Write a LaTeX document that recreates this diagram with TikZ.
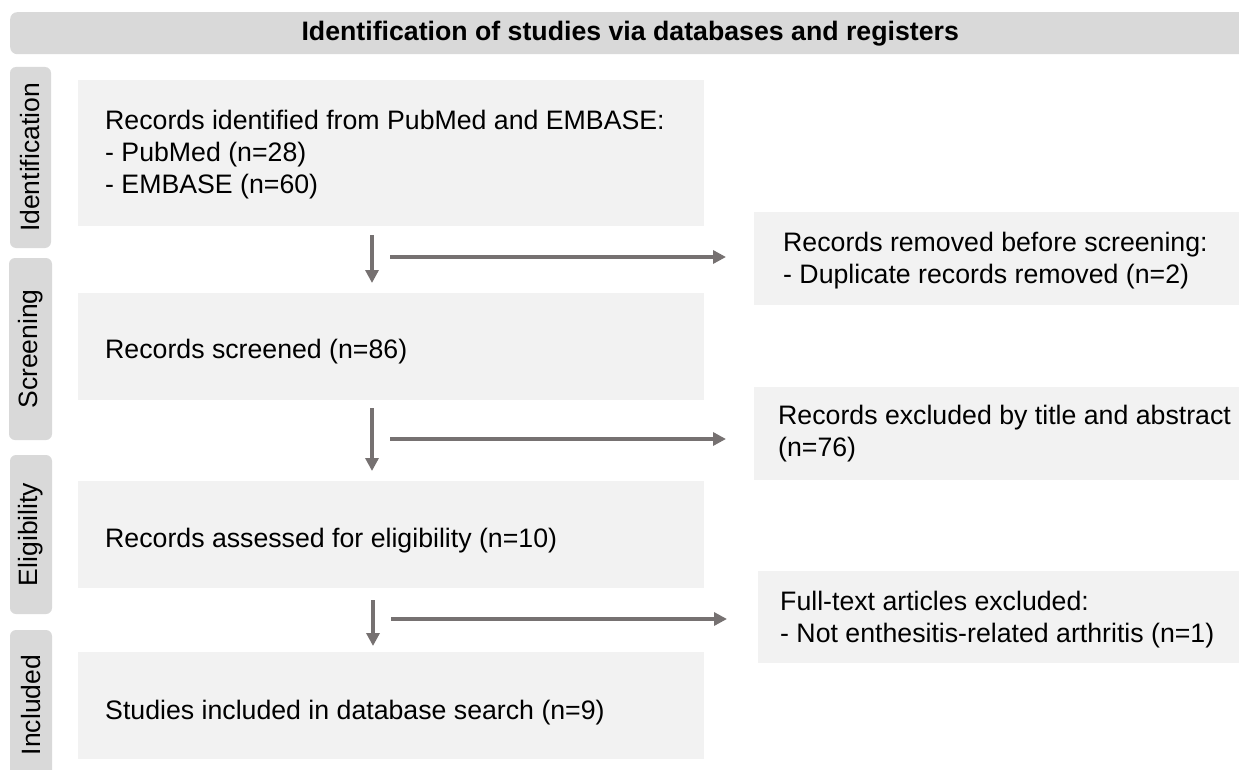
\documentclass[tikz,border=0pt]{standalone}
\usepackage{fontspec}
\setmainfont{Liberation Sans}
\usetikzlibrary{arrows.meta,calc}
\definecolor{hdrgray}{HTML}{D9D9D9}
\definecolor{boxfill}{HTML}{F2F2F2}
\definecolor{arrowgray}{HTML}{767171}

\begin{document}
\begin{tikzpicture}[x=1pt,y=-1pt,
  txt/.style={font=\fontsize{26.7}{32}\selectfont},
  banner/.style={font=\fontsize{26.7}{32}\selectfont\bfseries, fill=hdrgray,
    rounded corners=7pt, anchor=north west, inner sep=0pt},
  stage/.style={font=\fontsize{26.5}{32}\selectfont, fill=hdrgray,
    rounded corners=6pt, rotate=90, inner sep=0pt, anchor=center},
  flowbox/.style={fill=boxfill, anchor=north west, inner sep=0pt},
  boxtext/.style={txt, anchor=west, align=left, inner sep=0pt},
  arr/.style={draw=arrowgray, line width=4pt,
    -{Triangle[length=13pt,width=13pt]}}
]
\useasboundingbox (0,0) rectangle (1239,770);
\clip (0,0) rectangle (1239,770);

% banner across the top
\node[banner, minimum width=1240pt, minimum height=42pt] (head) at (10,12)
  {Identification of studies via databases and registers};

% stage labels on the left
\node[stage, minimum width=181pt, minimum height=41pt] (sIdent) at (30.5,157.5) {Identification};
\node[stage, minimum width=182pt, minimum height=43pt] (sScreen) at (30.5,349) {Screening};
\node[stage, minimum width=159pt, minimum height=42pt] (sElig) at (31,534.5) {Eligibility};
\node[stage, minimum width=150pt, minimum height=42pt] (sIncl) at (31,705) {Included};

% main flow boxes
\node[flowbox, minimum width=626pt, minimum height=146pt] (b1) at (78,80) {};
\node[flowbox, minimum width=626pt, minimum height=107pt] (b2) at (78,293) {};
\node[flowbox, minimum width=626pt, minimum height=107pt] (b3) at (78,481) {};
\node[flowbox, minimum width=626pt, minimum height=107pt] (b4) at (78,652) {};

\node[boxtext] (t1) at ([xshift=27pt,yshift=-1pt]b1.west)
  {Records identified from PubMed and EMBASE:\\- PubMed (n=28)\\- EMBASE (n=60)};
\node[boxtext] (t2) at ([xshift=27pt,yshift=-5pt]b2.west) {Records screened (n=86)};
\node[boxtext] (t3) at ([xshift=27pt,yshift=-5.5pt]b3.west) {Records assessed for eligibility (n=10)};
\node[boxtext] (t4) at ([xshift=27pt,yshift=-6.5pt]b4.west) {Studies included in database search (n=9)};

% exclusion boxes, running off the right edge
\node[flowbox, minimum width=520pt, minimum height=93pt] (r1) at (754,212) {};
\node[flowbox, minimum width=520pt, minimum height=93pt] (r2) at (754,387) {};
\node[flowbox, minimum width=520pt, minimum height=92pt] (r3) at (758,571) {};

\node[boxtext] (u1) at ([xshift=29pt,yshift=-2pt]r1.west)
  {Records removed before screening:\\- Duplicate records removed (n=2)};
\node[boxtext] (u2) at ([xshift=24pt]r2.west)
  {Records excluded by title and abstract\\(n=76)};
\node[boxtext] (u3) at ([xshift=22pt,yshift=-2pt]r3.west)
  {Full-text articles excluded:\\- Not enthesitis-related arthritis (n=1)};

% arrow start points
\coordinate (v1) at (372,235);
\coordinate (v2) at (372,408);
\coordinate (v3) at (373,600);
\coordinate (h1) at (390,257);
\coordinate (h2) at (390,439);
\coordinate (h3) at (391,619);

% downward arrows
\draw[arr, shorten >=10pt] (v1) -- (v1 |- b2.north);
\draw[arr, shorten >=10pt] (v2) -- (v2 |- b3.north);
\draw[arr, shorten >=6pt] (v3) -- (v3 |- b4.north);

% arrows to the exclusion boxes
\draw[arr, shorten >=28pt] (h1) -- (h1 -| r1.west);
\draw[arr, shorten >=28pt] (h2) -- (h2 -| r2.west);
\draw[arr, shorten >=31pt] (h3) -- (h3 -| r3.west);
\end{tikzpicture}
\end{document}
